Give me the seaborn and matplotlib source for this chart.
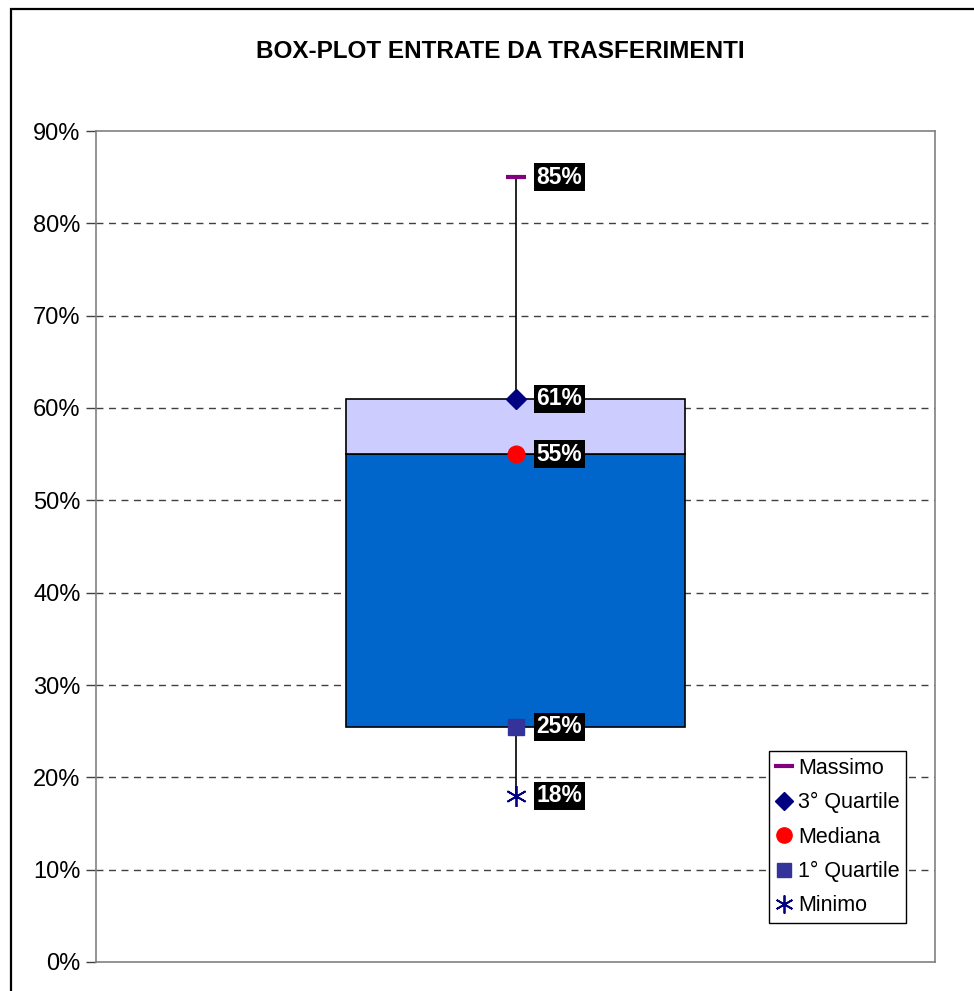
import numpy as np
import pandas as pd
import matplotlib
matplotlib.use("Agg")
import matplotlib.pyplot as plt
import seaborn as sns
from matplotlib.lines import Line2D
from matplotlib.patches import Rectangle
from matplotlib.ticker import PercentFormatter

# Statistiche
categoria = [""]
minimo = 0.18
primo_quartile = 0.255
mediana = 0.55
terzo_quartile = 0.61
massimo = 0.85
etichette = ["85%", "61%", "55%", "25%", "18%"]

sns.set_theme(style="white")
plt.rcParams["font.family"] = ["Liberation Sans", "DejaVu Sans"]
plt.rcParams["text.color"] = "black"
plt.rcParams["ytick.labelcolor"] = "black"

fig = plt.figure(figsize=(9.74, 9.91), dpi=100)
ax = fig.add_axes([96 / 974, 1 - 962 / 991, (935 - 96) / 974, (962 - 131) / 991])

# linea dei baffi (dietro al box)
ax.plot([0, 0], [minimo, massimo], color="black", lw=1.2, zorder=1)

# box come barre sovrapposte
df = pd.DataFrame({"cat": categoria,
                   "basso": [mediana - primo_quartile],
                   "alto": [terzo_quartile - mediana]})
sns.barplot(data=df, x="cat", y="basso", bottom=primo_quartile, color="#0066CC",
            saturation=1, width=0.403, edgecolor="black", linewidth=1.2, ax=ax, zorder=2)
sns.barplot(data=df, x="cat", y="alto", bottom=mediana, color="#CCCCFF",
            saturation=1, width=0.403, edgecolor="black", linewidth=1.2, ax=ax, zorder=2)

# marcatori
ax.plot(0, massimo, marker="_", ms=14, mew=3, color="#800080", zorder=4, ls="none")
ax.plot(0, terzo_quartile, marker="D", ms=10, color="#000080", zorder=4, ls="none")
ax.plot(0, mediana, marker="o", ms=12, color="#FF0000", zorder=4, ls="none")
ax.plot(0, primo_quartile, marker="s", ms=11, color="#333399", zorder=4, ls="none")
ax.plot(0, minimo, marker=(6, 2, 0), ms=15, mew=1.3, color="#000080", zorder=4, ls="none")

valori = [massimo, terzo_quartile, mediana, primo_quartile, minimo]
for v, t in zip(valori, etichette):
    ax.text(0.025, v, t, color="white", fontsize=16.5, fontweight="bold",
            va="center", ha="left", zorder=5,
            bbox=dict(facecolor="black", edgecolor="none", pad=1.8))

ax.set_xlim(-0.5, 0.5)
ax.set_ylim(0, 0.9)
ax.set_yticks(np.arange(0, 0.91, 0.1))
ax.yaxis.set_major_formatter(PercentFormatter(1.0, decimals=0))
ax.tick_params(axis="y", labelsize=17, length=7, width=1, color="#404040",
               direction="out", left=True, pad=4)
ax.tick_params(axis="x", bottom=False, labelbottom=False)
ax.set_xlabel("")
ax.set_ylabel("")
for g in np.arange(0.1, 0.81, 0.1):
    ax.axhline(g, color="#404040", lw=1, ls=(0, (5, 4)), zorder=0)
for s in ax.spines.values():
    s.set_color("#808080")
    s.set_linewidth(1.2)

fig.text(500 / 974, 1 - 52 / 991, "BOX-PLOT ENTRATE DA TRASFERIMENTI",
         ha="center", va="center", fontsize=17.5, fontweight="bold")

handles = [
    Line2D([], [], marker="_", ms=14, mew=3, color="#800080", ls="none"),
    Line2D([], [], marker="D", ms=9, color="#000080", ls="none"),
    Line2D([], [], marker="o", ms=11, color="#FF0000", ls="none"),
    Line2D([], [], marker="s", ms=10, color="#333399", ls="none"),
    Line2D([], [], marker=(6, 2, 0), ms=13, mew=1.3, color="#000080", ls="none"),
]
nomi = ["Massimo", "3° Quartile", "Mediana", "1° Quartile", "Minimo"]
leg = ax.legend(handles, nomi, loc="lower left", bbox_to_anchor=(0.802, 0.047),
                fontsize=15.5, frameon=True, fancybox=False, edgecolor="black",
                framealpha=1, borderaxespad=0, handlelength=0.8, handletextpad=0.25,
                labelspacing=0.62, borderpad=0.3)
leg.get_frame().set_linewidth(1)

fig.add_artist(Rectangle((11 / 974, -0.1), 1.2, 1 - 9 / 991 + 0.1,
                         transform=fig.transFigure, fill=False,
                         edgecolor="black", lw=1.6))

fig.savefig("out.png", dpi=100)
